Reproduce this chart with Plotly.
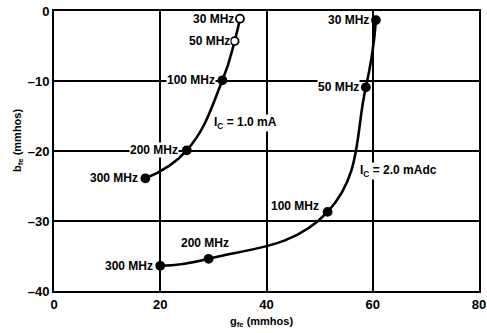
import plotly.graph_objects as go

freq_labels = ["300 MHz", "200 MHz", "100 MHz", "50 MHz", "30 MHz"]

# Ic = 1.0 mA curve
g1 = [17.2, 25.0, 31.7, 34.0, 35.0]
b1 = [-23.9, -19.9, -9.9, -4.3, -1.1]
open1 = [False, False, False, True, True]

# Ic = 2.0 mAdc curve
g2 = [20.0, 29.1, 51.5, 58.7, 60.6]
b2 = [-36.4, -35.4, -28.7, -10.9, -1.3]
open2 = [False, False, False, False, False]

x_ticks = [0, 20, 40, 60, 80]
y_ticks = [0, -10, -20, -30, -40]
y_tick_text = ["0", "\u201310", "\u201320", "\u201330", "\u201340"]

FONT = "Liberation Sans, Arial, sans-serif"

fig = go.Figure()
for gx, by, op in [(g1, b1, open1), (g2, b2, open2)]:
    fig.add_trace(go.Scatter(
        x=gx, y=by, mode="lines+markers",
        line=dict(color="black", width=2.6, shape="spline", smoothing=1.3),
        marker=dict(size=8, color=["white" if o else "black" for o in op],
                    line=dict(color="black", width=1.8)),
        showlegend=False, hoverinfo="skip", cliponaxis=False))

# label offsets (pixels) per point: (xshift, yshift, xanchor)
off1 = [(-6, 0, "right"), (-8, 0, "right"), (-6, 0, "right"), (-4, 0, "right"), (-5, 0, "right")]
off2 = [(-6, 0, "right"), (-4, 16, "center"), (-8, 6, "right"), (-6, 0, "right"), (-6, 0, "right")]

annotations = []
for gx, by, offs in [(g1, b1, off1), (g2, b2, off2)]:
    for x, y, lab, (dx, dy, xa) in zip(gx, by, freq_labels, offs):
        annotations.append(dict(
            x=x, y=y, xref="x", yref="y", text="<b>" + lab + "</b>",
            showarrow=False, xanchor=xa, yanchor="middle", xshift=dx, yshift=dy,
            bgcolor="white", borderpad=0,
            font=dict(family=FONT, size=12, color="black")))

annotations.append(dict(x=29.9, y=-16.0, xref="x", yref="y",
                        text="<b>I<sub>C</sub> = 1.0 mA</b>", showarrow=False,
                        xanchor="left", yanchor="middle", bgcolor="white", borderpad=0,
                        font=dict(family=FONT, size=12, color="black")))
annotations.append(dict(x=57.5, y=-22.9, xref="x", yref="y",
                        text="<b>I<sub>C</sub> = 2.0 mAdc</b>", showarrow=False,
                        xanchor="left", yanchor="middle", bgcolor="white", borderpad=0,
                        font=dict(family=FONT, size=12, color="black")))

# axis titles
annotations.append(dict(x=0.489, y=-0.111, xref="paper", yref="paper",
                        text="<b>g<sub>fe</sub> (mmhos)</b>", showarrow=False,
                        xanchor="center", yanchor="middle",
                        font=dict(family=FONT, size=11, color="black")))
annotations.append(dict(x=-0.085, y=0.539, xref="paper", yref="paper",
                        text="<b>b<sub>fe</sub> (mmhos)</b>", showarrow=False,
                        textangle=-90, xanchor="center", yanchor="middle",
                        font=dict(family=FONT, size=11, color="black")))

fig.update_layout(
    width=487, height=333,
    margin=dict(l=54, r=8, t=11, b=42, autoexpand=False),
    paper_bgcolor="white", plot_bgcolor="white",
    annotations=annotations,
    font=dict(family=FONT, color="black"),
)
fig.update_xaxes(
    range=[0, 80], tickvals=x_ticks, ticktext=["<b>%d</b>" % v for v in x_ticks],
    showgrid=True, gridcolor="black", gridwidth=1.5,
    showline=True, linecolor="black", linewidth=2, mirror=True,
    ticks="", zeroline=False, tickfont=dict(family=FONT, size=13),
    automargin=False, ticklabeloverflow="allow",
)
fig.update_yaxes(
    range=[-40, 0], tickvals=y_ticks, ticktext=["<b>%s</b>" % t for t in y_tick_text],
    showgrid=True, gridcolor="black", gridwidth=1.5,
    showline=True, linecolor="black", linewidth=2, mirror=True,
    ticks="", zeroline=False, tickfont=dict(family=FONT, size=13),
    automargin=False, ticklabeloverflow="allow",
)

# remove the browser's default 8px body margin so the figure sits at the page origin
fig.write_html("out.html", config={"displayModeBar": False},
               post_script="document.body.style.margin='0';")
